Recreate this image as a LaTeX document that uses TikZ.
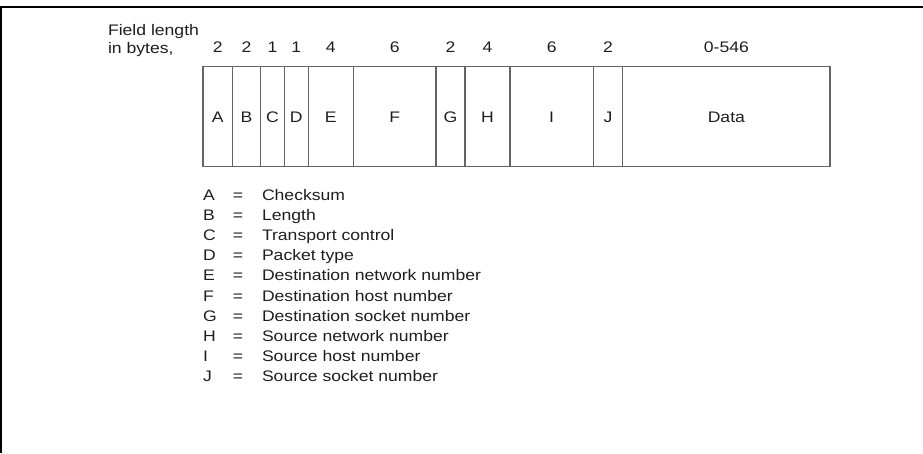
\documentclass[tikz,border=0pt]{standalone}
\usepackage{fontspec}
\setmainfont[FakeStretch=1.15]{Liberation Sans}
\definecolor{boxgray}{RGB}{100,100,100}
\definecolor{txt}{RGB}{30,30,30}
\begin{document}
\begin{tikzpicture}[x=1pt,y=-1pt,
  lbl/.style={font=\fontsize{15.3}{18}\selectfont, text=txt, inner sep=0pt, outer sep=0pt},
  field/.style={lbl, draw=boxgray, line width=1.3pt, minimum height=100pt,
                text height=11pt, text depth=0pt},
  frame/.style={line width=2pt, black}]
\useasboundingbox (0,0) rectangle (923,453);
% outer frame (top and left edges)
\coordinate (fb) at (1,453);
\coordinate (fc) at (1,7.3);
\coordinate (fr) at (923,7.3);
\draw[frame] (fb) -- (fc) -- (fr);
% heading
\node[lbl, anchor=base west] (fl) at (108,35) {Field length};
\node[lbl, anchor=base west] (ib) at (108,53) {in bytes,};
% fields
\foreach \n/\l/\r/\num in {A/203/232.3/2, B/232.3/260.7/2, C/260.7/284.3/1,
   D/284.3/308.3/1, E/308.3/353.3/4, F/353.3/436/6, G/436/465/2,
   H/465/510/4, I/510/593.3/6, J/593.3/622.7/2, Data/622.7/830/0-546}{
  \pgfmathsetlengthmacro\w{\r-\l}
  \pgfmathsetmacro\c{(\r+\l)/2}
  \node[field, minimum width=\w] (f\n) at (\c,116.5) {\n};
  \node[lbl, anchor=base] (n\n) at (\c,52) {\num};
}
% legend
\foreach \k/\t [count=\i from 0] in {A/Checksum, B/Length, C/Transport control,
   D/Packet type, E/Destination network number, F/Destination host number,
   G/Destination socket number, H/Source network number, I/Source host number,
   J/Source socket number}{
  \pgfmathsetmacro\yy{200+20.2*\i}
  \node[lbl, anchor=base west] (k\k) at (203,\yy) {\k};
  \node[lbl, anchor=base] (e\k) at (238,\yy) {=};
  \node[lbl, anchor=base west] (t\k) at (262,\yy) {\t};
}
\end{tikzpicture}
\end{document}
